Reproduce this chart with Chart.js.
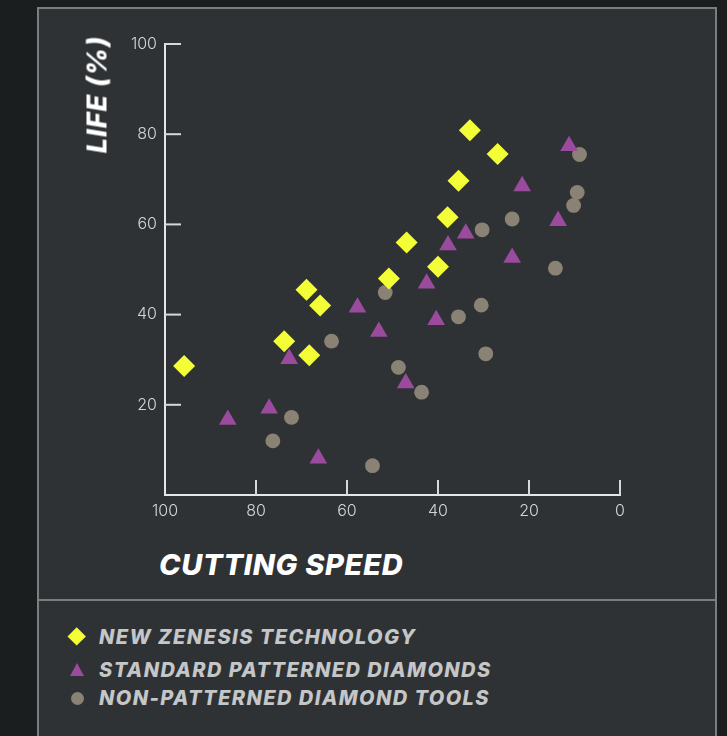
<!DOCTYPE html>
<html>
<head>
<meta charset="utf-8">
<script src="https://cdn.jsdelivr.net/npm/chart.js@4/dist/chart.umd.min.js"></script>
<style>
  html, body { margin:0; padding:0; width:727px; height:736px; overflow:hidden; background:#1b1e1f; }
  #panel { position:absolute; left:37px; top:7px; width:676px; height:760px; background:#2f3234; border:2px solid #7b7d7e; }
  #divider { position:absolute; left:37px; top:599px; width:680px; height:2px; background:#7b7d7e; }
  #wrap { position:absolute; left:0; top:0; width:727px; height:530px; }
  .ttl { position:absolute; font-family:Inter, "Open Sans", sans-serif; font-weight:800; font-style:italic; color:#ffffff; white-space:nowrap; line-height:1; }
  #xTitle { left:159px; top:550px; font-size:29px; letter-spacing:0.7px; }
  #yTitle { left:17px; top:81px; width:160px; text-align:center; font-size:27px; letter-spacing:1px; transform:rotate(-90deg); transform-origin:center center; }
  #legend { position:absolute; left:0; top:0; }
  .li { position:absolute; left:99px; font-family:Inter, "Open Sans", sans-serif; font-weight:800; font-style:italic; font-size:20px; letter-spacing:1.45px; color:#c4c6c8; white-space:nowrap; line-height:1; }
  .mk { position:absolute; }
</style>
</head>
<body>
<div id="panel"></div>
<div id="divider"></div>
<div id="wrap"><canvas id="c"></canvas></div>
<div class="ttl" id="xTitle">CUTTING SPEED</div>
<div class="ttl" id="yTitle">LIFE (%)</div>
<div id="legend"></div>
<script>
// ---- data (x = cutting speed, y = life %) ----
const seriesNames = ['NEW ZENESIS TECHNOLOGY', 'STANDARD PATTERNED DIAMONDS', 'NON-PATTERNED DIAMOND TOOLS'];
const seriesColors = ['#f4fe37', '#9a4b9d', '#8b8276'];

const zenesisX = [95.8, 73.8, 68.3, 68.9, 65.9, 50.8, 46.9, 40.0, 37.9, 35.5, 33.0, 26.9];
const zenesisY = [28.6, 34.1, 31.0, 45.5, 42.0, 48.0, 56.0, 50.6, 61.6, 69.7, 80.9, 75.6];

const standardX = [86.2, 77.1, 72.7, 66.3, 57.7, 53.0, 47.1, 40.4, 42.5, 37.8, 33.9, 23.7, 21.5, 13.6, 11.2];
const standardY = [16.7, 19.2, 30.2, 8.1, 41.6, 36.2, 24.8, 38.8, 46.9, 55.4, 58.0, 52.6, 68.5, 60.8, 77.4];

const nonPatX = [76.3, 72.2, 63.4, 54.4, 51.6, 48.7, 43.6, 35.5, 30.5, 29.5, 30.3, 23.7, 14.2, 10.2, 9.4, 8.9];
const nonPatY = [12.0, 17.2, 34.1, 6.5, 44.9, 28.3, 22.8, 39.5, 42.1, 31.3, 58.8, 61.2, 50.3, 64.2, 67.1, 75.5];

const xTickValues = [100, 80, 60, 40, 20, 0];
const yTickValues = [20, 40, 60, 80, 100];

const toPts = (xs, ys) => xs.map((x, i) => ({x: x, y: ys[i]}));

// ---- legend (HTML) ----
const legendShapes = ['diamond', 'triangle', 'circle'];
const legendRowY = [637, 670, 698];
const lg = document.getElementById('legend');
seriesNames.forEach((name, i) => {
  const cy = legendRowY[i];
  const mk = document.createElement('div');
  mk.className = 'mk';
  const col = seriesColors[i];
  if (legendShapes[i] === 'diamond') {
    Object.assign(mk.style, {left:(77-6.7)+'px', top:(cy-6.7)+'px', width:'13.4px', height:'13.4px', background:col, transform:'rotate(45deg)'});
  } else if (legendShapes[i] === 'triangle') {
    Object.assign(mk.style, {left:(77-7.5)+'px', top:(cy-7)+'px', width:'0', height:'0', borderLeft:'7.5px solid transparent', borderRight:'7.5px solid transparent', borderBottom:'13px solid '+col});
  } else {
    Object.assign(mk.style, {left:(77-6.5)+'px', top:(cy-6.5)+'px', width:'13px', height:'13px', borderRadius:'50%', background:col});
  }
  lg.appendChild(mk);
  const t = document.createElement('div');
  t.className = 'li';
  t.textContent = name;
  t.style.top = (cy - 10) + 'px';
  lg.appendChild(t);
});

// ---- inward tick marks ----
const innerTicks = {
  id: 'innerTicks',
  afterDraw(chart) {
    const ctx = chart.ctx;
    const xs = chart.scales.x, ys = chart.scales.y;
    const area = chart.chartArea;
    ctx.save();
    ctx.strokeStyle = '#d8d8d8';
    ctx.lineWidth = 2;
    xTickValues.forEach(v => {
      if (v === 100) return;
      const px = xs.getPixelForValue(v);
      ctx.beginPath();
      ctx.moveTo(px, area.bottom);
      ctx.lineTo(px, area.bottom - 15);
      ctx.stroke();
    });
    yTickValues.forEach(v => {
      const py = ys.getPixelForValue(v);
      ctx.beginPath();
      ctx.moveTo(area.left, py);
      ctx.lineTo(area.left + 16, py);
      ctx.stroke();
    });
    ctx.restore();
  }
};

const tickFont = {family: 'Inter', size: 16, weight: 300};

new Chart(document.getElementById('c'), {
  type: 'scatter',
  data: {
    datasets: [
      {label: seriesNames[0], data: toPts(zenesisX, zenesisY), pointStyle: 'rectRot', pointRadius: 11, pointHoverRadius: 11, pointBorderWidth: 0, backgroundColor: seriesColors[0], borderColor: seriesColors[0]},
      {label: seriesNames[1], data: toPts(standardX, standardY), pointStyle: 'triangle', pointRadius: 10.2, pointHoverRadius: 10.2, pointBorderWidth: 0, backgroundColor: seriesColors[1], borderColor: seriesColors[1]},
      {label: seriesNames[2], data: toPts(nonPatX, nonPatY), pointStyle: 'circle', pointRadius: 7.4, pointHoverRadius: 7.4, pointBorderWidth: 0, backgroundColor: seriesColors[2], borderColor: seriesColors[2]}
    ]
  },
  options: {
    responsive: true,
    maintainAspectRatio: false,
    animation: false,
    events: [],
    layout: {padding: {left: 0, top: 44, right: 107, bottom: 0}},
    plugins: {legend: {display: false}, tooltip: {enabled: false}},
    scales: {
      x: {
        type: 'linear', min: 0, max: 100, reverse: true,
        afterFit: s => { s.height = 35; },
        afterBuildTicks: s => { s.ticks = xTickValues.map(v => ({value: v})); },
        grid: {display: true, drawOnChartArea: false, drawTicks: false},
        border: {display: true, color: '#e6e6e6', width: 2},
        ticks: {color: '#d4d4d4', font: tickFont, padding: 7, maxRotation: 0}
      },
      y: {
        type: 'linear', min: 0, max: 100,
        afterFit: s => { s.width = 165; },
        afterBuildTicks: s => { s.ticks = yTickValues.map(v => ({value: v})); },
        grid: {display: true, drawOnChartArea: false, drawTicks: false},
        border: {display: true, color: '#e6e6e6', width: 2},
        ticks: {color: '#d4d4d4', font: tickFont, padding: 8}
      }
    }
  },
  plugins: [innerTicks]
});
</script>
</body>
</html>
